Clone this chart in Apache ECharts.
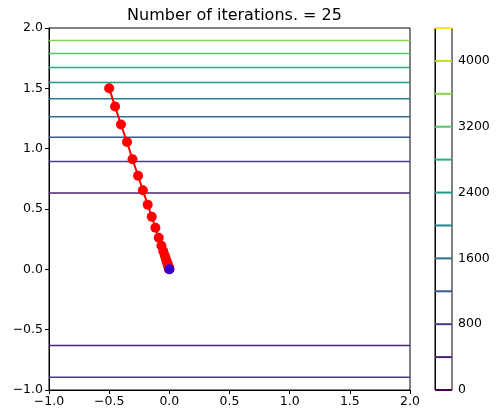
<!DOCTYPE html>
<html>
<head>
<meta charset="utf-8">
<script src="https://cdn.jsdelivr.net/npm/echarts@6/dist/echarts.min.js"></script>
<style>html,body{margin:0;padding:0;background:#fff}#c{width:498px;height:411px}</style>
</head>
<body>
<div id="c"></div>
<script>
// contour levels and their (read) y positions in the plot
const levels = [0, 400, 800, 1200, 1600, 2000, 2400, 2800, 3200, 3600, 4000, 4400];
const levelColors = ['#440154','#482475','#433e85','#38588c','#2e6e8e','#25848e','#1f9a8a','#2ab07f','#52c569','#86d549','#c2df23','#fde725'];
const contourLevels = [400, 800, 1200, 1600, 2000, 2400, 2800, 3200, 3600];
const contourYPos = [0.632, 0.894, 1.095, 1.265, 1.414, 1.549, 1.673, 1.789, 1.897];
const contourYNeg = [-0.632, -0.894];
// optimisation path
const pathX = [-0.5,-0.451,-0.402,-0.352,-0.306,-0.26,-0.22,-0.18,-0.146,-0.116,-0.088,-0.066,-0.05,-0.038,-0.029,-0.022,-0.017,-0.012,-0.009,-0.006,-0.004,-0.003,-0.002,-0.001,0];
const pathY = [1.5,1.35,1.2,1.055,0.912,0.776,0.655,0.536,0.436,0.345,0.262,0.196,0.15,0.115,0.088,0.067,0.05,0.037,0.027,0.019,0.013,0.008,0.005,0.003,0.001];
const endPoint = [0, 0];
const axisTicks = [-1.0, -0.5, 0.0, 0.5, 1.0, 1.5, 2.0];
const cbTicks = [0, 800, 1600, 2400, 3200, 4000];
const titleText = 'Number of iterations. = 25';

const FONT = 'DejaVu Sans';
const chart = echarts.init(document.getElementById('c'), null, {renderer: 'canvas'});

const series = [];
function colorOf(lv){ return levelColors[levels.indexOf(lv)]; }
contourLevels.forEach((lv, i) => {
  series.push({type:'line', xAxisIndex:0, yAxisIndex:0, data:[[-1, contourYPos[i]],[2, contourYPos[i]]],
    symbol:'none', silent:true, lineStyle:{color: colorOf(lv), width:1.5}, z:2});
});
contourYNeg.forEach((y, i) => {
  series.push({type:'line', xAxisIndex:0, yAxisIndex:0, data:[[-1, y],[2, y]],
    symbol:'none', silent:true, lineStyle:{color: colorOf(contourLevels[i]), width:1.5}, z:2});
});
series.push({type:'line', xAxisIndex:0, yAxisIndex:0, data: pathX.map((x,i)=>[x, pathY[i]]),
  symbol:'circle', symbolSize:10, itemStyle:{color:'#ff0000'}, lineStyle:{color:'#ff0000', width:2}, z:5, silent:true});
series.push({type:'scatter', xAxisIndex:0, yAxisIndex:0, data:[endPoint], symbolSize:10, itemStyle:{color:'#0000ff'}, z:6, silent:true});
levels.forEach((lv, i) => {
  series.push({type:'line', xAxisIndex:1, yAxisIndex:1, data:[[0, lv],[1, lv]], symbol:'none', silent:true,
    lineStyle:{color: levelColors[i], width:2}, z:2});
});

const tickLabel = {color:'#000', fontFamily:FONT, fontSize:12.5};
chart.setOption({
  animation:false,
  backgroundColor:'#fff',
  title:{text:titleText, left:229.5, top:3, textAlign:'center', textStyle:{fontFamily:FONT, fontSize:16, fontWeight:'normal', color:'#000'}},
  grid:[
    {left:49, top:28, width:361, height:362, show:true, borderColor:'#000', borderWidth:1, backgroundColor:'transparent'},
    {left:435, top:28, width:17, height:362, show:true, borderColor:'#000', borderWidth:1, backgroundColor:'transparent'}
  ],
  xAxis:[
    {type:'value', gridIndex:0, min:-1, max:2, interval:0.5, splitLine:{show:false},
     axisLine:{show:true, onZero:false, lineStyle:{color:'#000'}},
     axisTick:{show:true, length:4, lineStyle:{color:'#000'}},
     axisLabel:{...tickLabel, margin:5, formatter:v=>v.toFixed(1).replace('-','\u2212')}},
    {type:'value', gridIndex:1, min:0, max:1, show:false}
  ],
  yAxis:[
    {type:'value', gridIndex:0, min:-1, max:2, interval:0.5, splitLine:{show:false},
     axisLine:{show:true, onZero:false, lineStyle:{color:'#000'}},
     axisTick:{show:true, length:4, lineStyle:{color:'#000'}},
     axisLabel:{...tickLabel, margin:6, formatter:v=>v.toFixed(1).replace('-','\u2212')}},
    {type:'value', gridIndex:1, min:0, max:4400, position:'right', splitLine:{show:false},
     axisLine:{show:true, lineStyle:{color:'#000'}},
     axisTick:{show:true, length:4, lineStyle:{color:'#000'}, customValues:cbTicks},
     axisLabel:{...tickLabel, margin:6, customValues:cbTicks, formatter:v=>String(v)}}
  ],
  series
});
</script>
</body>
</html>
